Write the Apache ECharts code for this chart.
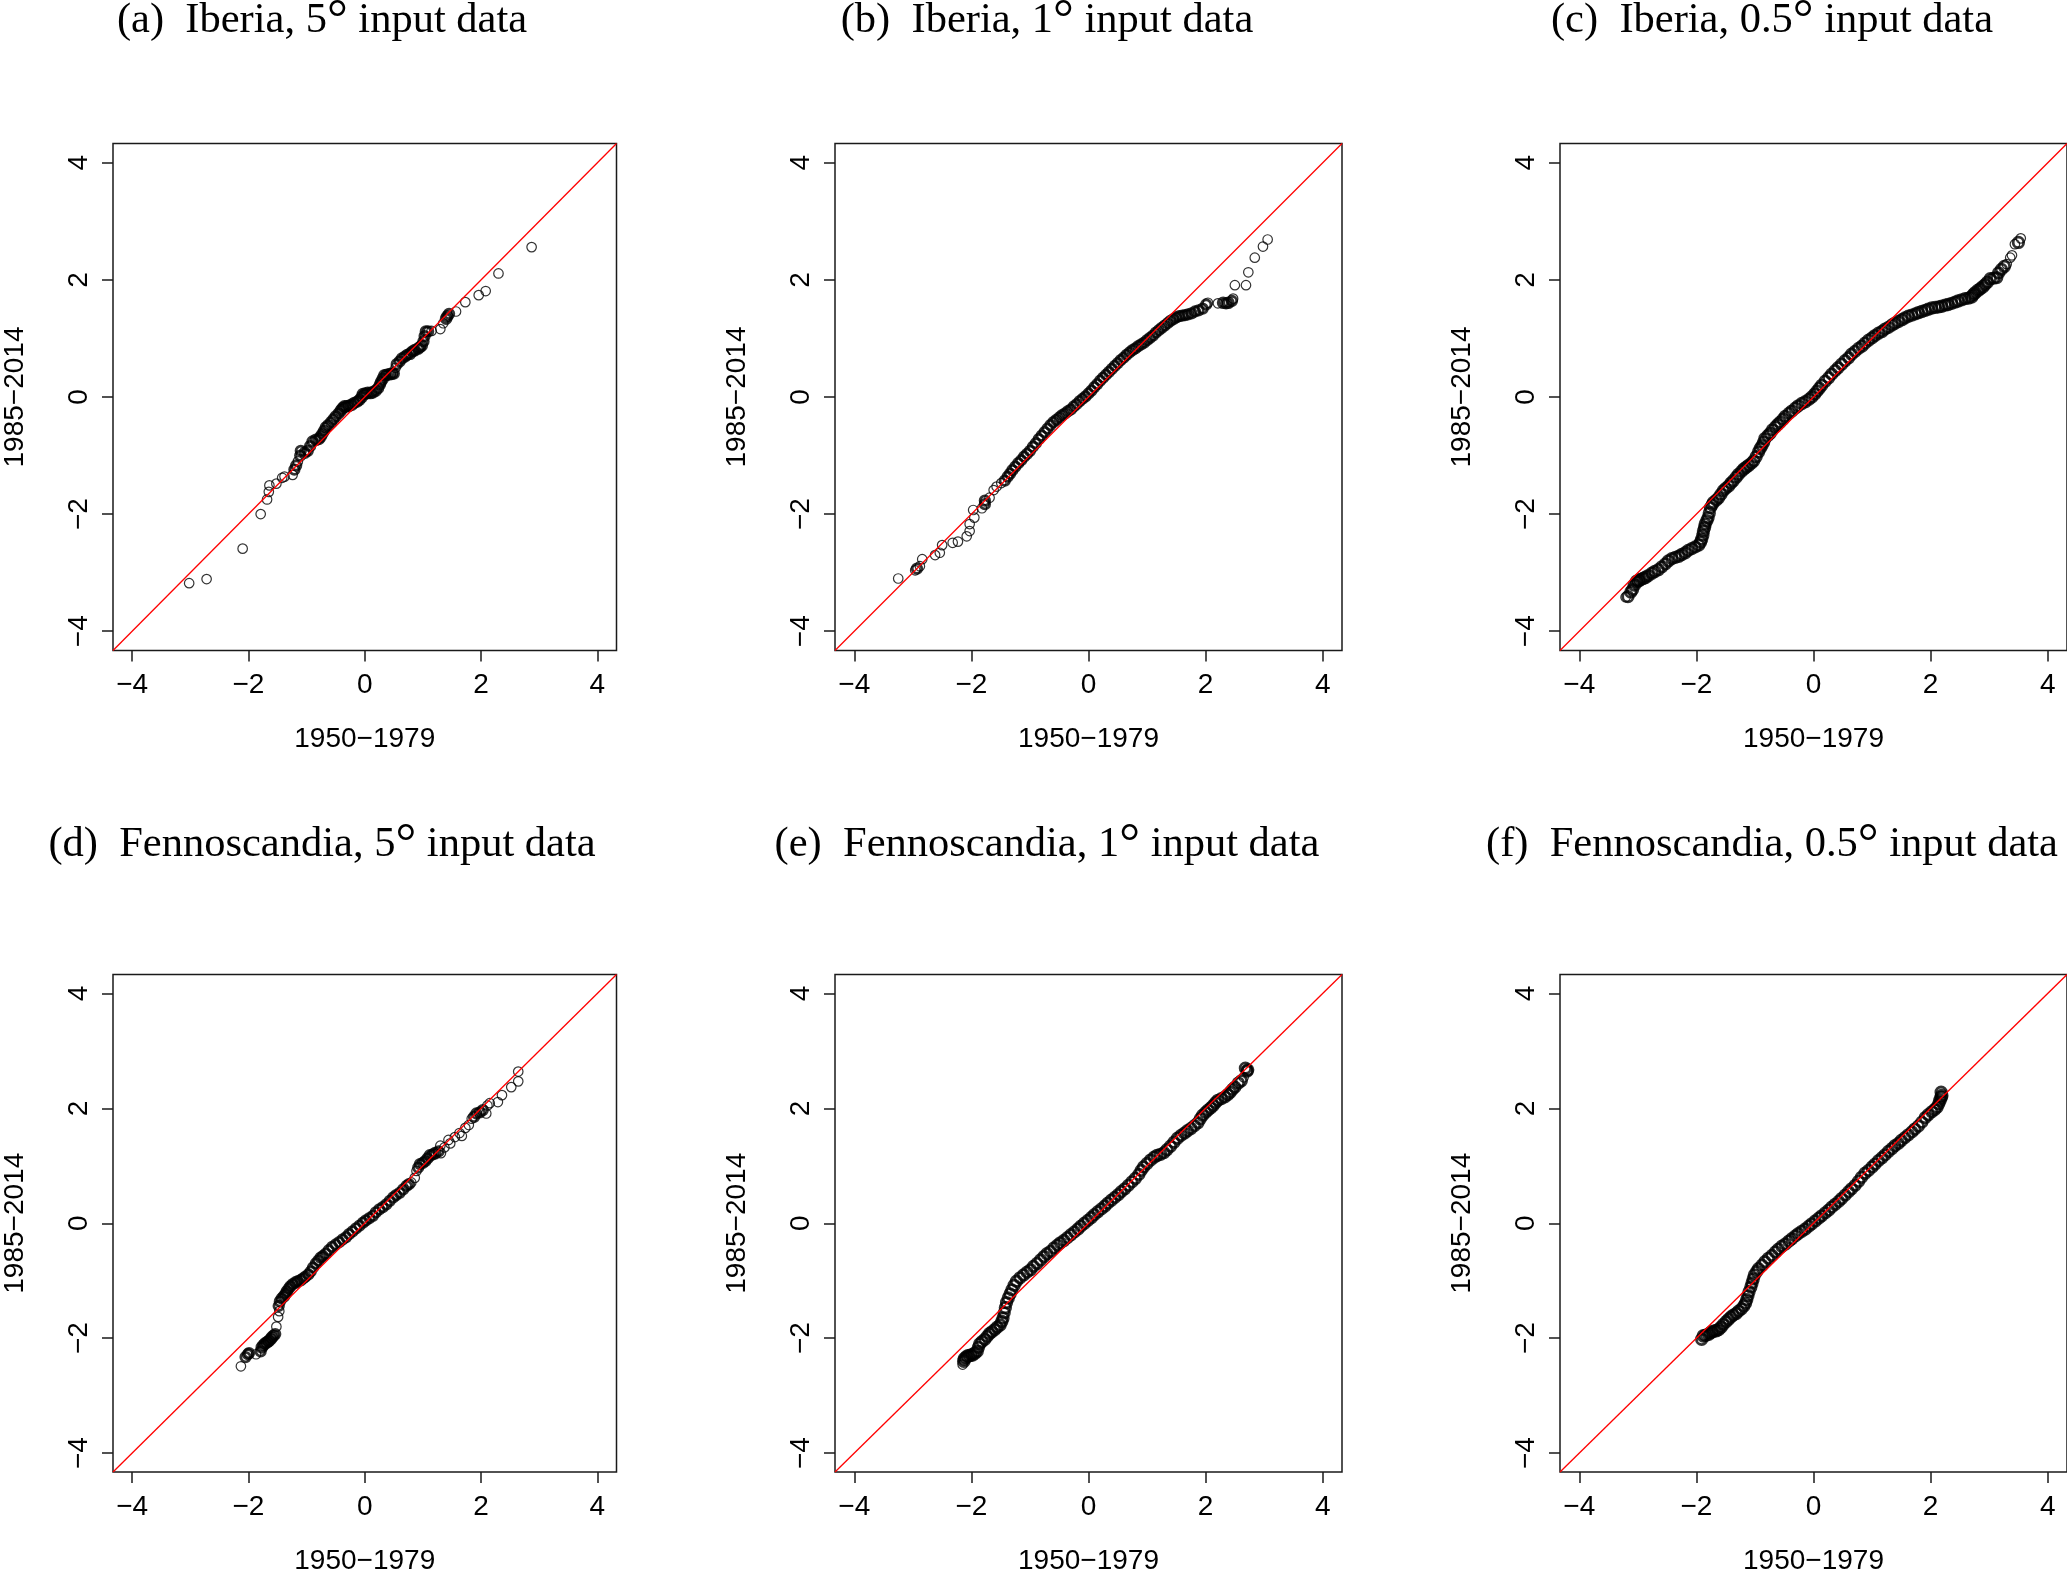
<!DOCTYPE html>
<html><head><meta charset="utf-8">
<script src="https://cdn.jsdelivr.net/npm/echarts@6/dist/echarts.min.js"></script>
<style>html,body{margin:0;padding:0;background:#fff}#c{width:2067px;height:1576px}</style>
</head><body><div id="c"></div>
<script>
// ---- axis limits / ticks / texts ----
const AXIS_MIN = -4.33, AXIS_MAX = 4.33;
const tickValues = [-4, -2, 0, 2, 4];
const panelLabels = ['(a)', '(b)', '(c)', '(d)', '(e)', '(f)'];
const panelRegions = ['Iberia', 'Iberia', 'Iberia', 'Fennoscandia', 'Fennoscandia', 'Fennoscandia'];
const panelResolutions = ['5', '1', '0.5', '5', '1', '0.5'];
const xAxisTitle = '1950\u22121979';
const yAxisTitle = '1985\u22122014';

// ---- QQ points [quantile 1950-1979, quantile 1985-2014] ----
const qqIberia5 = [[-3.02,-3.18],[-2.72,-3.11],[-2.10,-2.59],[-1.79,-2.00],[-1.68,-1.75],[-1.65,-1.62],[-1.64,-1.51],[-1.52,-1.48],[-1.42,-1.38],[-1.38,-1.36],[-1.24,-1.33],[-1.21,-1.24],[-1.18,-1.17],[-1.15,-1.10],[-1.11,-1.00],[-1.10,-0.92],[-1.03,-0.95],[-0.98,-0.92],[-0.94,-0.84],[-0.90,-0.76],[-0.84,-0.73],[-0.79,-0.72],[-0.76,-0.68],[-0.73,-0.63],[-0.70,-0.58],[-0.67,-0.52],[-0.63,-0.48],[-0.58,-0.43],[-0.54,-0.38],[-0.50,-0.33],[-0.45,-0.28],[-0.41,-0.23],[-0.38,-0.19],[-0.35,-0.16],[-0.31,-0.16],[-0.27,-0.15],[-0.22,-0.13],[-0.18,-0.10],[-0.13,-0.08],[-0.09,-0.05],[-0.05,0.00],[-0.03,0.05],[0.01,0.06],[0.05,0.07],[0.10,0.07],[0.14,0.08],[0.19,0.11],[0.23,0.15],[0.26,0.21],[0.28,0.26],[0.31,0.31],[0.34,0.37],[0.38,0.38],[0.43,0.39],[0.47,0.40],[0.50,0.40],[0.53,0.50],[0.55,0.56],[0.60,0.61],[0.64,0.66],[0.69,0.69],[0.73,0.72],[0.78,0.74],[0.82,0.78],[0.86,0.80],[0.92,0.83],[0.95,0.85],[0.98,0.88],[1.01,0.95],[1.03,1.04],[1.05,1.12],[1.09,1.12],[1.15,1.13],[1.30,1.16],[1.35,1.26],[1.40,1.34],[1.42,1.38],[1.45,1.42],[1.57,1.46],[1.73,1.62],[1.96,1.74],[2.08,1.81],[2.30,2.11],[2.87,2.56]];

const qqIberia1 = [[-3.25,-3.10],[-2.96,-2.96],[-2.93,-2.93],[-2.88,-2.89],[-2.84,-2.77],[-2.62,-2.70],[-2.54,-2.66],[-2.50,-2.53],[-2.32,-2.49],[-2.23,-2.47],[-2.08,-2.38],[-2.03,-2.29],[-2.03,-2.17],[-1.95,-2.06],[-1.97,-1.93],[-1.82,-1.90],[-1.77,-1.83],[-1.77,-1.77],[-1.69,-1.72],[-1.62,-1.59],[-1.57,-1.53],[-1.49,-1.47],[-1.43,-1.43],[-1.38,-1.36],[-1.34,-1.31],
[-1.30,-1.25],[-1.25,-1.19],[-1.20,-1.13],[-1.15,-1.08],[-1.10,-1.02],[-1.05,-0.97],[-1.00,-0.92],[-0.95,-0.85],[-0.90,-0.79],[-0.85,-0.72],[-0.80,-0.66],[-0.75,-0.60],[-0.70,-0.54],[-0.65,-0.48],[-0.60,-0.43],[-0.55,-0.39],[-0.50,-0.35],[-0.45,-0.31],[-0.40,-0.28],[-0.35,-0.24],[-0.30,-0.21],[-0.25,-0.16],[-0.20,-0.12],[-0.15,-0.07],[-0.10,-0.03],[-0.05,0.01],[0.00,0.06],[0.05,0.11],[0.10,0.17],[0.15,0.22],[0.20,0.28],[0.25,0.33],[0.30,0.38],[0.35,0.43],[0.40,0.48],[0.45,0.53],[0.50,0.58],[0.55,0.63],[0.60,0.67],[0.65,0.72],[0.70,0.76],[0.75,0.80],[0.80,0.83],[0.85,0.87],[0.90,0.90],[0.95,0.93],[1.00,0.97],[1.05,1.01],[1.10,1.05],[1.15,1.10],[1.20,1.14],[1.25,1.18],[1.30,1.22],[1.35,1.26],[1.40,1.30],[1.45,1.33],[1.50,1.36],[1.55,1.38],[1.60,1.39],[1.65,1.40],[1.70,1.41],[1.76,1.43],[1.82,1.46],[1.88,1.48],[1.95,1.51],[2.01,1.58],[2.04,1.61],
[2.21,1.60],[2.30,1.61],[2.35,1.60],[2.39,1.61],[2.45,1.64],[2.47,1.68],[2.50,1.91],[2.69,1.91],[2.73,2.13],[2.84,2.38],[2.98,2.57],[3.06,2.69]];

const qqIberia05 = [[-3.21,-3.42],[-3.17,-3.41],[-3.12,-3.33],[-3.09,-3.29],[-3.06,-3.21],[-3.02,-3.15],[-2.99,-3.14],[-2.96,-3.12],[-2.91,-3.10],[-2.87,-3.08],[-2.82,-3.05],[-2.76,-3.01],[-2.71,-2.98],[-2.65,-2.95],[-2.59,-2.90],[-2.53,-2.85],[-2.48,-2.80],[-2.42,-2.76],[-2.36,-2.74],[-2.30,-2.72],[-2.25,-2.69],[-2.19,-2.66],[-2.14,-2.62],[-2.08,-2.59],[-2.02,-2.56],[-1.96,-2.53],[-1.93,-2.48],[-1.91,-2.43],[-1.89,-2.36],[-1.88,-2.29],[-1.86,-2.23],[-1.85,-2.17],[-1.82,-2.11],[-1.80,-2.06],[-1.78,-1.98],[-1.76,-1.89],[-1.73,-1.84],[-1.71,-1.80],[-1.66,-1.76],[-1.62,-1.72],[-1.58,-1.66],[-1.54,-1.60],[-1.50,-1.56],[-1.45,-1.52],[-1.41,-1.47],[-1.37,-1.43],[-1.32,-1.37],[-1.28,-1.32],[-1.23,-1.27],[-1.19,-1.23],[-1.15,-1.20],[-1.11,-1.17],[-1.06,-1.13],[-1.02,-1.09],[-0.98,-1.02],[-0.94,-0.94],[-0.91,-0.88],[-0.88,-0.83],[-0.85,-0.77],[-0.83,-0.71],[-0.78,-0.66],[-0.74,-0.62],[-0.70,-0.56],[-0.65,-0.51],[-0.61,-0.47],[-0.57,-0.43],[-0.52,-0.38],[-0.48,-0.33],[-0.42,-0.28],[-0.37,-0.24],[-0.31,-0.19],[-0.26,-0.15],[-0.20,-0.11],[-0.14,-0.08],[-0.08,-0.04],[-0.03,0.00],[0.02,0.05],[0.06,0.10],[0.10,0.15],[0.14,0.20],[0.20,0.27],[0.26,0.33],[0.31,0.39],[0.37,0.45],[0.42,0.50],[0.48,0.56],[0.54,0.62],[0.60,0.67],[0.65,0.73],[0.71,0.78],[0.77,0.83],[0.83,0.87],[0.88,0.92],[0.94,0.97],[1.00,1.01],[1.05,1.05],[1.11,1.09],[1.17,1.12],[1.22,1.16],[1.28,1.19],[1.34,1.23],[1.39,1.26],[1.45,1.29],[1.51,1.32],[1.56,1.35],[1.62,1.38],[1.68,1.40],[1.74,1.42],[1.79,1.44],[1.85,1.46],[1.91,1.48],[1.96,1.50],[2.02,1.52],[2.08,1.53],[2.14,1.54],[2.19,1.55],[2.25,1.57],[2.30,1.58],[2.36,1.60],[2.42,1.62],[2.47,1.64],[2.53,1.66],[2.59,1.68],[2.65,1.69],[2.70,1.71],[2.73,1.75],[2.76,1.78],[2.81,1.82],[2.85,1.85],[2.89,1.88],[2.93,1.92],[2.97,1.96],[3.02,2.02],[3.08,2.03],[3.13,2.04],[3.16,2.12],[3.21,2.18],[3.26,2.23],[3.30,2.27],[3.36,2.38],[3.39,2.42],[3.44,2.61],[3.50,2.64],[3.54,2.71]];

const qqFenno5 = [[-2.13,-2.49],[-2.05,-2.33],[-2.01,-2.28],[-1.99,-2.26],[-1.87,-2.28],[-1.79,-2.23],[-1.77,-2.16],[-1.74,-2.12],[-1.71,-2.09],[-1.68,-2.07],[-1.65,-2.05],[-1.62,-2.02],[-1.60,-1.99],[-1.57,-1.96],[-1.54,-1.93],[-1.52,-1.80],[-1.49,-1.63],[-1.47,-1.53],[-1.48,-1.44],[-1.46,-1.36],[-1.43,-1.31],[-1.39,-1.27],[-1.36,-1.23],[-1.34,-1.19],[-1.31,-1.14],[-1.28,-1.10],[-1.24,-1.06],[-1.19,-1.03],[-1.15,-1.01],[-1.10,-0.99],[-1.06,-0.96],[-1.02,-0.93],[-0.97,-0.89],[-0.93,-0.84],[-0.89,-0.77],[-0.84,-0.70],[-0.80,-0.65],[-0.76,-0.60],[-0.72,-0.57],[-0.67,-0.53],[-0.62,-0.47],[-0.56,-0.41],[-0.50,-0.37],[-0.44,-0.33],[-0.38,-0.28],[-0.32,-0.24],[-0.27,-0.19],[-0.21,-0.14],[-0.15,-0.09],[-0.09,-0.04],[-0.03,0.01],[0.02,0.05],[0.08,0.09],[0.14,0.13],[0.19,0.19],[0.25,0.24],[0.31,0.28],[0.37,0.33],[0.43,0.39],[0.49,0.45],[0.54,0.49],[0.60,0.53],[0.66,0.59],[0.72,0.65],[0.76,0.68],[0.80,0.71],[0.86,0.79],[0.89,0.91],[0.92,0.97],[0.95,1.03],[1.00,1.05],[1.04,1.08],[1.08,1.13],[1.12,1.18],[1.17,1.20],[1.21,1.22],[1.27,1.25],[1.30,1.35],[1.31,1.22],[1.37,1.32],[1.44,1.45],[1.47,1.39],[1.55,1.50],[1.63,1.57],[1.67,1.52],[1.73,1.66],[1.79,1.71],[1.84,1.82],[1.88,1.85],[1.92,1.91],[1.98,1.93],[2.03,1.97],[2.09,1.91],[2.11,2.05],[2.15,2.09],[2.29,2.11],[2.36,2.23],[2.52,2.37],[2.64,2.47],[2.64,2.64]];

const qqFenno1 = [[-2.15,-2.46],[-2.13,-2.40],[-2.12,-2.36],[-2.09,-2.33],[-2.06,-2.31],[-2.02,-2.30],[-1.98,-2.29],[-1.94,-2.26],[-1.90,-2.23],[-1.88,-2.16],[-1.86,-2.10],[-1.82,-2.06],[-1.77,-2.02],[-1.73,-1.97],[-1.69,-1.92],[-1.65,-1.89],[-1.60,-1.85],[-1.56,-1.81],[-1.51,-1.77],[-1.48,-1.71],[-1.46,-1.65],[-1.44,-1.56],[-1.42,-1.47],[-1.40,-1.38],[-1.37,-1.30],[-1.34,-1.23],[-1.31,-1.16],[-1.27,-1.08],[-1.23,-1.01],[-1.17,-0.95],[-1.11,-0.90],[-1.05,-0.85],[-0.99,-0.81],[-0.94,-0.75],[-0.88,-0.70],[-0.82,-0.64],[-0.76,-0.58],[-0.71,-0.53],[-0.65,-0.49],[-0.59,-0.43],[-0.53,-0.38],[-0.48,-0.34],[-0.42,-0.30],[-0.36,-0.25],[-0.30,-0.20],[-0.24,-0.15],[-0.18,-0.10],[-0.13,-0.05],[-0.07,0.00],[-0.01,0.05],[0.05,0.10],[0.10,0.15],[0.16,0.20],[0.22,0.25],[0.28,0.30],[0.33,0.35],[0.39,0.40],[0.45,0.45],[0.51,0.50],[0.56,0.55],[0.62,0.60],[0.68,0.66],[0.74,0.72],[0.80,0.78],[0.86,0.85],[0.90,0.92],[0.94,0.98],[1.00,1.04],[1.06,1.10],[1.12,1.15],[1.17,1.18],[1.23,1.20],[1.29,1.23],[1.34,1.28],[1.40,1.34],[1.46,1.41],[1.52,1.48],[1.58,1.53],[1.64,1.57],[1.69,1.61],[1.75,1.65],[1.81,1.70],[1.87,1.75],[1.91,1.82],[1.95,1.88],[2.00,1.93],[2.04,1.97],[2.09,2.01],[2.13,2.05],[2.17,2.10],[2.21,2.14],[2.27,2.17],[2.33,2.20],[2.38,2.24],[2.42,2.28],[2.46,2.33],[2.50,2.37],[2.56,2.44],[2.61,2.48],[2.65,2.54],[2.71,2.65],[2.68,2.70],[2.72,2.67]];

const qqFenno05 = [[-1.91,-2.02],[-1.88,-1.96],[-1.84,-1.95],[-1.79,-1.93],[-1.75,-1.90],[-1.71,-1.88],[-1.66,-1.87],[-1.62,-1.85],[-1.58,-1.81],[-1.54,-1.76],[-1.49,-1.71],[-1.45,-1.67],[-1.41,-1.63],[-1.37,-1.60],[-1.32,-1.57],[-1.28,-1.53],[-1.23,-1.49],[-1.19,-1.44],[-1.16,-1.39],[-1.14,-1.33],[-1.12,-1.26],[-1.10,-1.19],[-1.07,-1.11],[-1.05,-1.04],[-1.03,-0.97],[-1.01,-0.90],[-0.97,-0.84],[-0.94,-0.79],[-0.88,-0.73],[-0.83,-0.67],[-0.77,-0.61],[-0.71,-0.56],[-0.65,-0.50],[-0.60,-0.45],[-0.54,-0.40],[-0.48,-0.36],[-0.42,-0.31],[-0.37,-0.27],[-0.31,-0.22],[-0.26,-0.18],[-0.20,-0.14],[-0.14,-0.10],[-0.08,-0.05],[-0.03,-0.01],[0.03,0.04],[0.09,0.09],[0.14,0.13],[0.20,0.18],[0.26,0.23],[0.31,0.28],[0.37,0.33],[0.43,0.38],[0.48,0.43],[0.54,0.49],[0.60,0.55],[0.65,0.60],[0.71,0.66],[0.77,0.73],[0.82,0.80],[0.88,0.87],[0.94,0.92],[1.00,0.98],[1.05,1.03],[1.11,1.09],[1.17,1.14],[1.22,1.19],[1.28,1.25],[1.34,1.30],[1.39,1.35],[1.45,1.39],[1.50,1.44],[1.56,1.49],[1.62,1.54],[1.68,1.59],[1.73,1.64],[1.79,1.69],[1.85,1.76],[1.91,1.84],[1.96,1.89],[2.02,1.94],[2.07,1.98],[2.11,2.02],[2.14,2.08],[2.16,2.14],[2.18,2.19],[2.19,2.22],[2.18,2.28]];

const panelData = [qqIberia5, qqIberia1, qqIberia05, qqFenno5, qqFenno1, qqFenno05];

// ---- layout (pixels) ----
const gridLefts = [109.5, 835, 1560];
const gridTops = [143.5, 974.5];
const BOX = 507;
const titleCentersX = [322, 1047, 1772];
const titleCentersY = [21, 845];
// panels whose whole central body is a solid band of thousands of overplotted circles
const heavyBand = [false, false, true, false, true, true];

const chart = echarts.init(document.getElementById('c'), null, {renderer: 'canvas'});
const fmt = v => (v < 0 ? '\u2212' + Math.abs(v) : String(v));
const grids = [], xAxes = [], yAxes = [], series = [], graphics = [];
const refLine = [[AXIS_MIN, AXIS_MIN], [AXIS_MAX, AXIS_MAX]];

// rings in crowded stretches get a heavier outline (emulates many overplotted circles)
function styled(points, heavy) {
  return points.map((p, k) => {
    let n = 0;
    for (let j = 0; j < points.length; j++) {
      if (j === k) continue;
      const dx = points[j][0] - p[0], dy = points[j][1] - p[1];
      if (dx * dx + dy * dy < 0.1 * 0.1) n++;
    }
    const dense = n >= 2;
    return {
      value: p,
      symbolSize: dense && heavy ? 10.5 : 9.5,
      itemStyle: {borderWidth: n >= 3 ? 3.2 : (dense ? 2.8 : 1.2)}
    };
  });
}

for (let i = 0; i < 6; i++) {
  const col = i % 3, row = Math.floor(i / 3);
  grids.push({left: gridLefts[col], top: gridTops[row], width: BOX, height: BOX,
    show: true, borderColor: '#1a1a1a', borderWidth: 1.5, backgroundColor: 'transparent', containLabel: false});
  const common = {
    type: 'value', gridIndex: i, min: AXIS_MIN, max: AXIS_MAX,
    splitLine: {show: false}, axisLine: {show: false, onZero: false},
    axisTick: {show: true, inside: false, length: 11, customValues: tickValues, lineStyle: {color: '#1a1a1a', width: 1.5}},
    nameTextStyle: {fontFamily: 'Liberation Sans', fontSize: 28, color: '#000'},
    nameLocation: 'middle'
  };
  xAxes.push(Object.assign({}, common, {
    position: 'bottom', name: xAxisTitle, nameGap: 75,
    axisLabel: {customValues: tickValues, formatter: fmt, fontFamily: 'Liberation Sans', fontSize: 28, color: '#000', margin: 21}
  }));
  yAxes.push(Object.assign({}, common, {
    position: 'left', name: yAxisTitle, nameGap: 84,
    axisLabel: {customValues: tickValues, formatter: fmt, rotate: 90, fontFamily: 'Liberation Sans', fontSize: 28, color: '#000', margin: 20}
  }));
  series.push({
    type: 'scatter', xAxisIndex: i, yAxisIndex: i, data: styled(panelData[i], heavyBand[i]),
    symbol: 'circle', symbolSize: 9.5, silent: true, z: 2,
    itemStyle: {color: 'rgba(0,0,0,0)', borderColor: '#000', borderWidth: 1.2},
    emphasis: {disabled: true}
  });
  series.push({
    type: 'line', xAxisIndex: i, yAxisIndex: i, data: refLine,
    showSymbol: false, silent: true, z: 3,
    lineStyle: {color: '#ff0000', width: 1.3}, emphasis: {disabled: true}
  });
  graphics.push({
    type: 'text', x: titleCentersX[col], y: titleCentersY[row],
    style: {
      text: panelLabels[i] + '  ' + panelRegions[i] + ', ' + panelResolutions[i] + '{deg|\u00b0} input data',
      fontFamily: 'Liberation Serif', fontSize: 42.5, fill: '#000', align: 'center', verticalAlign: 'middle',
      rich: {deg: {fontFamily: 'Liberation Serif', fontSize: 52, fill: '#000', verticalAlign: 'middle'}}
    }
  });
}

chart.setOption({
  animation: false, backgroundColor: '#fff',
  grid: grids, xAxis: xAxes, yAxis: yAxes, series: series, graphic: graphics
});
</script>
</body></html>
